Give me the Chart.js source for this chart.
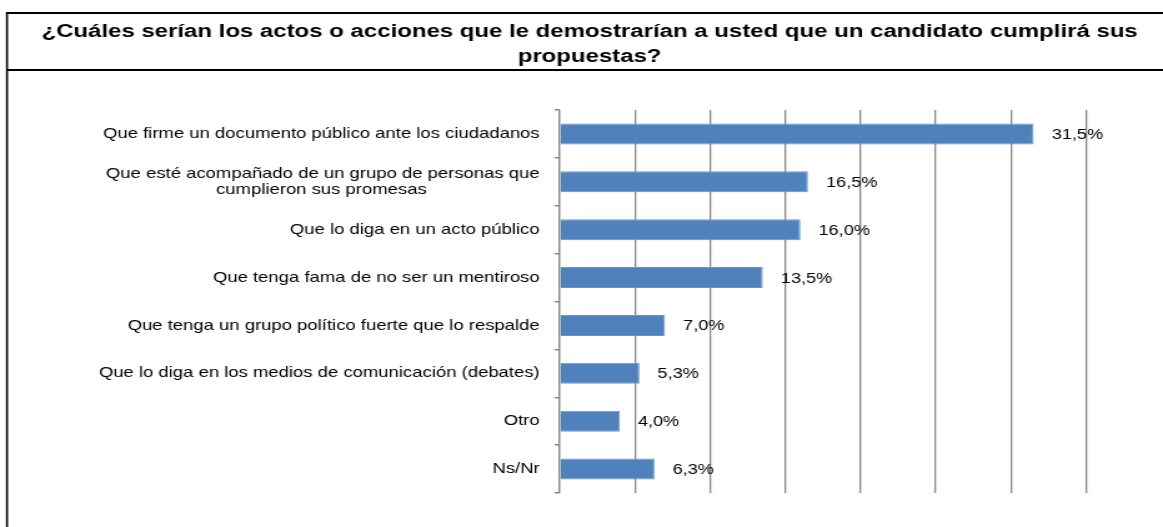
<!DOCTYPE html>
<html lang="es">
<head>
<meta charset="utf-8">
<script src="https://cdn.jsdelivr.net/npm/chart.js@4/dist/chart.umd.min.js"></script>
<style>
  html, body { margin: 0; padding: 0; background: #fff; overflow: hidden; }
  #caja { position: relative; width: 1163px; height: 527px; overflow: hidden; }
  /* el original está ensanchado en horizontal: se estira el lienzo igual */
  #grafico { transform: scaleX(1.2492); transform-origin: 0 0; }
</style>
</head>
<body>
<div id="caja"><canvas id="grafico" width="931" height="527"></canvas></div>
<script>
// Datos
const titulo = [
    '¿Cuáles serían los actos o acciones que le demostrarían a usted que un candidato cumplirá sus',
    'propuestas?'
];
const categorias = [
    ['Que firme un documento público ante los ciudadanos'],
    ['Que esté acompañado de un grupo de personas que', 'cumplieron sus promesas'],
    ['Que lo diga en un acto público'],
    ['Que tenga fama de no ser un mentiroso'],
    ['Que tenga un grupo político fuerte que lo respalde'],
    ['Que lo diga en los medios de comunicación (debates)'],
    ['Otro'],
    ['Ns/Nr']
];
const porcentajes = [31.5, 16.5, 16.0, 13.5, 7.0, 5.3, 4.0, 6.3];
const etiquetasValor = ['31,5%', '16,5%', '16,0%', '13,5%', '7,0%', '5,3%', '4,0%', '6,3%'];

const fuente = "'Liberation Sans', Arial, sans-serif";

// Centra las líneas de una etiqueta de varias líneas (Chart.js las alinea a la derecha)
function centrarLineas(lineas, font) {
    if (lineas.length < 2) return lineas[0];
    const ctx = document.createElement('canvas').getContext('2d');
    ctx.font = font;
    const anchos = lineas.map(l => ctx.measureText(l).width);
    const max = Math.max(...anchos);
    const esp = ctx.measureText('\u00a0').width;
    return lineas.map((l, i) => l + '\u00a0'.repeat(Math.round((max - anchos[i]) / 2 / esp)));
}

// Marco negro y título
const marco = {
    id: 'marco',
    beforeDraw(chart) {
        const ctx = chart.ctx;
        ctx.save();
        ctx.fillStyle = '#fff';
        ctx.fillRect(0, 0, chart.width, chart.height);
        ctx.strokeStyle = '#000';
        ctx.lineWidth = 1.6;
        ctx.beginPath();
        ctx.moveTo(5.6, chart.height + 5);
        ctx.lineTo(5.6, 13);
        ctx.stroke();
        ctx.lineWidth = 2;
        ctx.beginPath();
        ctx.moveTo(4.8, 13);
        ctx.lineTo(chart.width + 5, 13);
        ctx.moveTo(5.6, 70);
        ctx.lineTo(chart.width + 5, 70);
        ctx.stroke();

        ctx.font = 'bold 19.2px ' + fuente;
        ctx.fillStyle = '#000';
        ctx.textAlign = 'center';
        ctx.textBaseline = 'middle';
        titulo.forEach((linea, i) => ctx.fillText(linea, 472, 32 + i * 25));
        ctx.restore();
    }
};

// Etiquetas de porcentaje al final de cada barra
const valores = {
    id: 'valores',
    afterDatasetsDraw(chart) {
        const ctx = chart.ctx;
        const meta = chart.getDatasetMeta(0);
        ctx.save();
        ctx.font = '14.5px ' + fuente;
        ctx.fillStyle = '#000';
        ctx.textAlign = 'left';
        ctx.textBaseline = 'middle';
        meta.data.forEach((barra, i) => {
            ctx.fillText(etiquetasValor[i], barra.x + 14.5, barra.y + 1);
        });
        ctx.restore();
    }
};

new Chart(document.getElementById('grafico').getContext('2d'), {
    type: 'bar',
    data: {
        labels: categorias.map(c => centrarLineas(c, '14.8px ' + fuente)),
        datasets: [{
            data: porcentajes,
            backgroundColor: '#4F81BD',
            borderColor: '#6b95c8',
            borderWidth: 1,
            barPercentage: 0.44,
            categoryPercentage: 1
        }]
    },
    options: {
        indexAxis: 'y',
        responsive: false,
        animation: false,
        layout: { padding: { top: 110, left: 12.8, right: 61.4, bottom: 34 } },
        plugins: {
            legend: { display: false },
            tooltip: { enabled: false },
            title: { display: false }
        },
        scales: {
            x: {
                min: 0,
                max: 35,
                ticks: { display: false, stepSize: 5 },
                grid: { color: '#878787', lineWidth: 1.3, drawTicks: false },
                border: { display: false }
            },
            y: {
                afterFit(scale) { scale.width = 435.2; },
                grid: { drawOnChartArea: false, color: '#878787', lineWidth: 1.5, tickLength: 4, offset: true },
                border: { color: '#878787', width: 1.2 },
                ticks: {
                    color: '#000',
                    padding: 12,
                    font: { family: fuente, size: 14.8, lineHeight: 1.1 }
                }
            }
        }
    },
    plugins: [marco, valores]
});
</script>
</body>
</html>
